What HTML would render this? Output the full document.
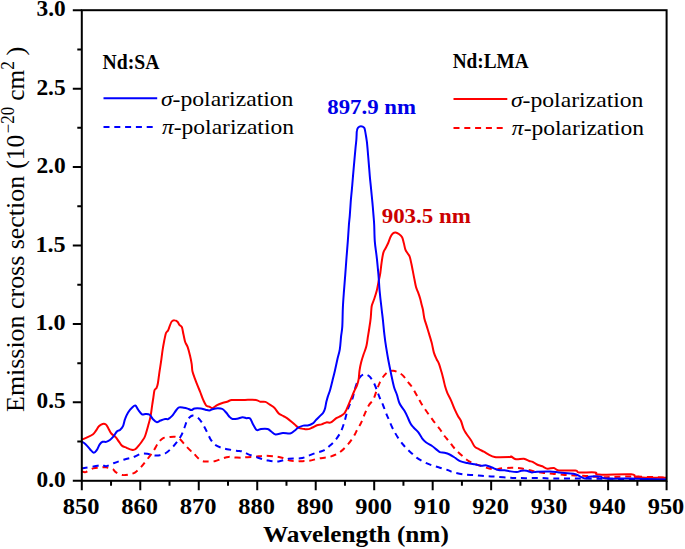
<!DOCTYPE html>
<html><head><meta charset="utf-8"><style>
html,body{margin:0;padding:0;background:#fff;width:685px;height:549px;overflow:hidden;font-family:"Liberation Serif",serif;}
svg{display:block}
</style></head><body>
<svg width="685" height="549" viewBox="0 0 685 549"><defs><clipPath id="c"><rect x="81.8" y="10.2" width="584.8" height="470.6"/></clipPath></defs>
<g clip-path="url(#c)" fill="none" stroke-width="2" stroke-linejoin="round">
<path d="M81.8,471.4 C82.5,471.5 83.9,472.6 85.8,472.1 C87.7,471.6 90.5,469.2 93.1,468.4 C95.6,467.6 98.9,467.6 101.1,467.4 C103.3,467.2 104.2,467.0 106.2,467.3 C108.2,467.6 111.2,468.4 112.8,469.2 C114.4,470.0 114.1,471.1 115.7,472.1 C117.3,473.1 119.9,474.6 122.2,475.0 C124.5,475.4 127.3,474.8 129.5,474.3 C131.7,473.9 133.4,473.5 135.3,472.3 C137.2,471.1 139.2,469.1 141.2,466.9 C143.2,464.7 145.3,461.9 147.4,459.2 C149.5,456.5 151.8,453.4 153.6,450.7 C155.4,448.0 156.7,445.1 158.2,443.0 C159.7,440.9 161.0,439.3 162.8,438.3 C164.6,437.3 166.9,437.4 169.0,437.1 C171.1,436.9 173.4,436.5 175.2,436.8 C177.0,437.1 178.0,437.6 179.8,439.1 C181.6,440.6 184.2,444.1 186.0,446.0 C187.8,447.9 189.5,449.7 190.7,450.7 C191.9,451.7 192.2,450.9 193.1,451.8 C194.0,452.7 194.8,454.6 196.2,456.1 C197.6,457.6 199.8,459.9 201.6,460.8 C203.4,461.7 204.8,461.4 207.0,461.5 C209.2,461.6 212.1,461.7 214.7,461.2 C217.3,460.7 220.2,459.1 222.5,458.4 C224.8,457.7 226.6,457.1 228.7,456.9 C230.8,456.7 232.6,457.3 234.8,457.4 C237.0,457.5 240.1,457.7 241.8,457.7 C243.5,457.7 242.8,457.5 245.0,457.3 C247.2,457.1 251.8,456.9 255.2,456.7 C258.6,456.4 261.8,455.8 265.4,455.8 C269.0,455.8 273.9,456.3 277.0,456.7 C280.1,457.1 282.1,457.8 284.3,458.4 C286.5,459.0 287.9,460.1 290.1,460.6 C292.3,461.1 295.8,461.3 297.4,461.4 C299.0,461.5 298.0,461.3 300.0,461.2 C302.0,461.1 306.2,461.2 309.3,460.8 C312.4,460.4 315.2,459.1 318.6,458.5 C322.0,457.9 326.0,457.8 329.4,456.9 C332.8,456.0 335.9,454.8 338.7,453.0 C341.5,451.2 344.1,448.6 346.4,446.1 C348.7,443.7 350.8,441.0 352.6,438.3 C354.4,435.6 355.9,432.2 357.2,429.8 C358.5,427.4 359.4,426.1 360.5,424.0 C361.6,421.9 362.6,419.2 363.5,417.0 C364.4,414.8 365.1,413.0 366.0,411.0 C366.9,409.0 367.8,406.9 369.0,405.0 C370.2,403.1 372.1,401.8 373.4,399.3 C374.7,396.9 375.6,393.2 376.7,390.3 C377.8,387.4 378.8,384.6 380.0,382.1 C381.2,379.7 382.7,377.3 384.1,375.6 C385.5,373.9 386.8,372.5 388.3,371.7 C389.8,370.9 391.6,370.6 393.2,370.7 C394.8,370.8 396.5,371.5 398.1,372.3 C399.7,373.1 401.4,374.0 403.0,375.6 C404.6,377.2 406.5,380.2 408.0,382.1 C409.5,384.0 410.6,384.9 412.0,387.0 C413.4,389.1 415.1,392.2 416.6,395.0 C418.2,397.8 419.5,400.5 421.3,403.5 C423.1,406.5 425.4,409.8 427.5,412.8 C429.6,415.8 431.6,418.6 433.7,421.3 C435.8,424.0 438.0,426.6 439.8,429.0 C441.6,431.4 442.9,433.9 444.5,436.0 C446.1,438.1 447.6,439.5 449.1,441.4 C450.7,443.3 452.0,445.4 453.8,447.5 C455.6,449.6 457.8,451.8 460.1,453.9 C462.4,456.0 465.0,458.5 467.4,460.2 C469.8,461.9 472.3,462.9 474.7,463.9 C477.1,464.9 479.6,465.5 482.0,466.3 C484.4,467.1 486.8,468.0 489.2,468.5 C491.6,469.0 494.6,469.4 496.5,469.4 C498.4,469.4 497.8,468.8 500.3,468.5 C502.8,468.2 508.0,467.8 511.6,467.8 C515.2,467.8 518.6,467.9 522.1,468.5 C525.6,469.1 529.3,470.4 532.7,471.1 C536.1,471.8 539.4,472.4 542.7,472.8 C546.0,473.2 549.0,473.4 552.6,473.7 C556.2,474.0 560.7,474.6 564.4,474.9 C568.1,475.2 571.4,475.3 575.0,475.5 C578.6,475.7 582.3,475.7 585.9,475.9 C589.5,476.1 592.9,476.6 596.4,476.8 C599.9,477.0 601.3,477.2 606.9,477.2 C612.5,477.1 620.0,476.4 630.0,476.5 C640.0,476.6 660.5,477.3 666.6,477.5" stroke="#ff0000" stroke-dasharray="6 4.8"/>
<path d="M81.8,468.4 C82.5,468.3 83.7,468.0 85.8,467.7 C87.9,467.4 91.9,466.7 94.6,466.3 C97.3,465.9 99.9,465.1 101.8,465.1 C103.7,465.1 104.2,466.6 106.2,466.3 C108.2,466.0 110.6,464.4 113.5,463.3 C116.4,462.2 120.5,460.7 123.7,459.7 C126.9,458.7 130.5,458.0 132.4,457.5 C134.3,457.0 133.5,457.1 135.0,456.5 C136.5,455.9 139.1,454.2 141.2,453.8 C143.3,453.4 145.3,453.6 147.4,453.8 C149.5,454.1 151.6,455.1 153.6,455.3 C155.6,455.6 157.6,455.7 159.7,455.3 C161.8,454.9 163.8,454.3 165.9,453.0 C168.0,451.7 170.3,449.4 172.1,447.6 C173.9,445.8 175.2,444.3 176.8,442.2 C178.4,440.1 180.1,437.6 181.4,435.2 C182.7,432.8 183.5,430.1 184.5,427.5 C185.5,424.9 186.4,421.6 187.6,419.7 C188.8,417.8 190.5,416.6 191.4,415.9 C192.3,415.2 192.1,415.4 193.1,415.7 C194.1,416.0 196.3,416.4 197.7,417.5 C199.1,418.6 200.4,420.4 201.6,422.1 C202.8,423.8 203.7,425.6 204.7,427.5 C205.7,429.4 206.8,431.6 207.8,433.7 C208.8,435.8 209.8,438.1 210.9,439.9 C212.1,441.7 213.0,443.2 214.7,444.5 C216.4,445.8 218.8,446.8 220.9,447.6 C223.0,448.4 224.5,448.7 227.1,449.2 C229.7,449.7 233.8,450.3 236.4,450.7 C239.0,451.1 240.7,450.9 242.6,451.5 C244.5,452.1 245.3,453.1 247.9,454.1 C250.5,455.1 254.7,456.6 258.1,457.7 C261.5,458.8 264.9,460.0 268.3,460.6 C271.7,461.2 275.1,461.7 278.5,461.4 C281.9,461.1 285.1,459.2 288.7,458.7 C292.3,458.2 297.1,458.7 300.3,458.3 C303.5,457.9 305.2,457.0 307.7,456.1 C310.2,455.2 312.9,453.9 315.5,453.0 C318.1,452.1 320.9,451.8 323.2,450.7 C325.5,449.6 327.3,447.9 329.4,446.1 C331.5,444.3 333.7,442.3 335.6,439.9 C337.5,437.4 339.5,434.6 341.0,431.4 C342.5,428.2 343.8,424.0 344.8,420.6 C345.8,417.2 346.4,413.9 347.2,411.3 C348.0,408.7 348.6,407.3 349.5,405.1 C350.4,402.9 351.8,400.6 352.6,398.1 C353.5,395.6 353.7,392.9 354.6,390.0 C355.5,387.1 356.8,382.8 357.9,380.5 C359.0,378.2 359.9,377.0 361.0,376.0 C362.1,375.0 363.4,374.5 364.4,374.3 C365.4,374.1 365.9,374.3 366.9,374.8 C367.9,375.3 369.0,375.7 370.2,377.2 C371.4,378.7 373.1,381.3 374.3,383.8 C375.5,386.3 376.6,389.6 377.5,392.0 C378.4,394.4 379.1,396.3 380.0,398.5 C380.9,400.7 382.0,402.6 383.0,405.0 C384.0,407.4 385.0,410.5 386.0,413.0 C387.0,415.5 387.8,417.3 389.0,420.0 C390.2,422.7 391.4,425.8 393.0,429.0 C394.6,432.2 397.0,436.3 398.9,439.1 C400.8,441.9 402.4,443.8 404.3,446.0 C406.2,448.2 408.4,450.3 410.5,452.2 C412.6,454.1 414.3,455.9 416.6,457.6 C418.9,459.3 421.8,461.0 424.4,462.3 C427.0,463.6 429.5,464.5 432.1,465.4 C434.7,466.3 437.2,466.9 439.8,467.7 C442.4,468.5 445.4,469.3 447.6,470.0 C449.8,470.7 450.1,471.4 452.8,472.1 C455.5,472.9 460.1,474.0 463.7,474.5 C467.3,475.0 471.0,474.9 474.7,475.2 C478.4,475.5 482.0,475.9 485.6,476.1 C489.2,476.4 492.3,476.4 496.5,476.7 C500.7,477.0 506.7,477.6 510.8,477.8 C514.9,478.0 516.0,478.1 521.3,478.1 C526.6,478.2 537.5,478.0 542.7,478.1 C548.0,478.2 543.2,478.4 552.8,478.5 C562.3,478.6 581.0,478.5 600.0,478.7 C619.0,478.9 655.5,479.6 666.6,479.8" stroke="#0000ff" stroke-dasharray="6 4.8"/>
<path d="M81.8,439.6 C82.6,439.3 84.7,438.5 86.6,437.6 C88.5,436.7 91.5,435.4 93.1,434.2 C94.7,433.0 95.0,431.9 96.0,430.6 C97.0,429.3 97.8,427.3 98.9,426.2 C100.0,425.1 101.4,424.3 102.6,424.0 C103.8,423.7 104.9,423.8 105.9,424.5 C106.9,425.2 107.5,426.9 108.4,428.4 C109.3,429.9 110.1,432.1 111.3,433.5 C112.5,434.9 114.4,435.7 115.7,437.1 C117.0,438.6 118.2,440.7 119.3,442.2 C120.4,443.7 121.0,445.0 122.2,445.9 C123.4,446.8 125.0,447.1 126.6,447.8 C128.2,448.5 130.2,449.6 131.7,449.8 C133.1,450.1 134.0,450.2 135.3,449.3 C136.6,448.4 138.4,446.0 139.6,444.5 C140.8,443.0 141.6,441.9 142.5,440.5 C143.4,439.1 144.2,438.4 145.1,436.0 C146.0,433.6 147.2,429.1 148.1,425.9 C149.0,422.7 149.8,420.2 150.5,416.6 C151.2,413.0 151.8,407.4 152.3,404.3 C152.8,401.2 152.9,400.3 153.3,398.0 C153.7,395.7 154.0,392.0 154.5,390.3 C155.0,388.6 155.9,389.0 156.5,387.9 C157.1,386.8 157.3,386.4 157.8,383.8 C158.3,381.2 158.8,376.4 159.4,372.3 C160.0,368.2 160.9,363.0 161.4,359.2 C161.9,355.4 162.2,352.4 162.7,349.3 C163.2,346.2 163.8,343.0 164.3,340.3 C164.9,337.6 165.4,334.6 166.0,333.0 C166.6,331.4 167.4,331.6 168.0,330.5 C168.6,329.4 169.0,327.9 169.6,326.4 C170.2,324.9 170.9,322.5 171.7,321.5 C172.5,320.5 173.5,320.1 174.5,320.2 C175.5,320.2 176.7,321.0 177.5,321.8 C178.3,322.6 178.7,323.9 179.4,324.8 C180.1,325.7 181.2,325.6 181.9,327.2 C182.6,328.8 182.9,332.1 183.5,334.6 C184.1,337.1 184.5,339.9 185.2,342.0 C185.9,344.1 186.8,344.6 187.6,346.9 C188.4,349.2 189.4,353.0 190.1,355.9 C190.8,358.8 191.3,361.5 191.7,364.1 C192.1,366.7 191.9,369.0 192.5,371.5 C193.1,374.0 194.2,376.6 195.0,378.9 C195.8,381.2 196.6,383.1 197.5,385.4 C198.4,387.7 199.5,390.1 200.4,392.5 C201.3,394.9 202.1,397.5 203.1,399.7 C204.1,401.9 205.2,404.5 206.2,405.6 C207.2,406.8 208.3,406.2 209.3,406.6 C210.3,407.0 211.1,408.4 212.4,408.2 C213.7,407.9 215.6,405.9 217.1,405.1 C218.6,404.3 220.0,403.8 221.7,403.2 C223.4,402.6 225.4,402.2 227.1,401.7 C228.8,401.2 229.5,400.3 231.8,400.0 C234.1,399.7 238.8,400.0 241.0,400.0 C243.2,400.0 242.5,399.9 245.0,399.9 C247.5,399.9 253.3,399.6 255.9,399.9 C258.4,400.2 258.7,401.4 260.3,401.7 C261.9,402.0 263.8,401.4 265.4,401.9 C267.0,402.4 268.4,403.7 269.8,404.6 C271.2,405.5 272.7,406.1 274.1,407.5 C275.6,408.9 277.2,412.0 278.5,413.3 C279.8,414.6 280.9,414.8 282.1,415.5 C283.3,416.2 284.5,416.5 285.8,417.4 C287.1,418.2 288.7,419.5 290.1,420.6 C291.6,421.7 293.1,423.0 294.5,424.2 C295.9,425.4 297.0,426.9 298.2,427.6 C299.4,428.3 300.7,428.4 301.8,428.6 C302.9,428.9 303.5,429.0 304.6,429.1 C305.7,429.2 307.2,429.4 308.5,429.1 C309.8,428.8 311.0,428.1 312.4,427.5 C313.8,426.9 315.5,425.7 317.0,425.2 C318.5,424.7 320.1,424.9 321.6,424.4 C323.2,423.9 324.8,422.7 326.3,422.4 C327.9,422.1 329.2,423.1 330.9,422.4 C332.6,421.7 334.6,419.3 336.3,418.2 C338.0,417.1 339.7,416.7 341.0,415.9 C342.3,415.1 343.2,414.6 344.1,413.6 C345.0,412.6 345.6,411.2 346.4,409.7 C347.2,408.1 347.9,406.1 348.7,404.3 C349.5,402.5 350.1,401.1 351.0,398.9 C351.9,396.7 353.3,393.2 354.3,391.0 C355.3,388.8 356.3,387.4 357.0,385.4 C357.7,383.4 358.3,381.3 358.7,378.9 C359.1,376.4 359.1,373.4 359.5,370.7 C359.9,368.0 360.4,365.2 361.1,362.5 C361.8,359.8 362.7,357.0 363.6,354.3 C364.5,351.6 365.7,349.1 366.4,346.1 C367.1,343.1 367.5,339.2 368.0,336.2 C368.5,333.2 368.9,331.0 369.3,328.0 C369.8,325.0 370.4,321.2 370.7,318.2 C371.0,315.2 371.1,312.1 371.3,310.0 C371.5,307.9 371.4,307.2 371.9,305.3 C372.4,303.4 373.5,301.2 374.3,298.8 C375.1,296.4 376.1,293.3 376.8,290.6 C377.5,287.9 377.8,285.3 378.4,282.4 C379.0,279.5 379.8,276.3 380.3,273.0 C380.8,269.7 381.1,266.1 381.6,262.7 C382.1,259.3 382.6,255.3 383.3,252.9 C384.0,250.5 384.9,249.7 385.7,248.0 C386.5,246.3 387.4,244.9 388.2,243.0 C389.0,241.1 389.9,238.1 390.7,236.5 C391.5,234.9 392.3,233.9 393.1,233.2 C393.9,232.5 394.6,232.3 395.6,232.4 C396.6,232.5 397.8,233.2 398.9,234.0 C400.0,234.8 401.3,235.8 402.1,237.3 C402.9,238.8 403.2,240.9 403.8,243.0 C404.4,245.1 404.7,247.8 405.4,249.6 C406.1,251.4 407.2,252.5 407.9,253.7 C408.6,254.9 409.2,255.2 409.8,257.0 C410.4,258.8 411.0,262.0 411.5,264.3 C412.0,266.6 412.3,268.4 412.8,270.9 C413.3,273.4 413.8,276.4 414.4,279.1 C414.9,281.8 415.5,285.1 416.1,287.3 C416.7,289.5 417.3,290.3 418.0,292.2 C418.7,294.1 419.6,296.6 420.2,298.8 C420.8,301.0 421.3,303.4 421.8,305.3 C422.3,307.2 422.6,307.9 423.0,310.0 C423.4,312.1 423.7,315.5 424.3,318.2 C424.9,320.9 426.0,323.7 426.8,326.4 C427.6,329.1 428.5,331.9 429.3,334.6 C430.1,337.3 430.9,339.8 431.7,342.8 C432.5,345.8 433.1,349.9 433.9,352.6 C434.7,355.3 435.7,357.3 436.6,359.2 C437.5,361.1 438.3,361.9 439.1,364.1 C439.9,366.3 440.8,369.6 441.6,372.3 C442.4,375.0 443.1,378.2 443.7,380.5 C444.3,382.8 444.4,383.9 445.0,386.0 C445.6,388.1 446.3,390.4 447.3,392.8 C448.3,395.2 449.7,397.4 450.9,400.1 C452.1,402.8 453.4,406.5 454.6,409.2 C455.8,411.9 457.1,414.5 458.2,416.5 C459.3,418.5 460.1,418.9 461.0,421.0 C461.9,423.1 462.8,427.1 463.7,429.2 C464.6,431.3 465.2,432.0 466.4,433.8 C467.6,435.6 469.6,438.1 471.0,440.2 C472.4,442.3 473.3,445.1 474.7,446.6 C476.1,448.1 477.7,448.5 479.2,449.3 C480.7,450.1 482.1,450.8 483.8,451.7 C485.5,452.6 487.4,453.9 489.2,454.8 C491.0,455.7 492.9,456.6 494.7,457.0 C496.5,457.4 497.5,457.2 500.0,457.2 C502.5,457.2 508.0,457.2 509.9,457.1 C511.8,457.0 510.2,456.1 511.2,456.5 C512.2,456.9 513.9,458.9 516.0,459.3 C518.1,459.7 521.7,458.5 523.9,458.8 C526.1,459.1 527.7,460.5 529.2,461.0 C530.7,461.5 531.4,461.3 532.7,461.9 C534.0,462.5 535.4,463.8 537.0,464.5 C538.6,465.2 540.5,465.6 542.3,466.3 C544.0,467.0 545.6,468.4 547.5,468.7 C549.4,469.0 552.0,467.7 553.9,468.0 C555.8,468.3 555.2,470.1 558.8,470.5 C562.4,470.9 572.0,470.2 575.4,470.5 C578.8,470.8 575.6,472.1 578.9,472.4 C582.2,472.7 591.8,472.0 595.1,472.4 C598.5,472.8 593.0,474.3 599.0,474.6 C605.0,474.9 625.1,473.9 631.1,474.3 C637.1,474.7 633.8,476.8 635.0,477.2 C636.2,477.6 637.3,476.8 638.5,476.8 C639.7,476.9 637.3,477.3 642.0,477.5 C646.7,477.7 662.5,477.8 666.6,477.8" stroke="#ff0000"/>
<path d="M81.8,441.5 C82.5,442.0 84.4,443.1 85.8,444.4 C87.2,445.7 88.9,448.1 90.2,449.5 C91.5,450.9 92.7,452.6 93.8,452.7 C94.9,452.8 95.7,451.6 96.7,450.2 C97.7,448.8 98.7,445.8 99.7,444.4 C100.7,443.0 101.5,442.2 102.6,441.8 C103.7,441.4 105.0,442.2 106.2,441.9 C107.4,441.6 108.7,440.9 109.9,440.0 C111.1,439.1 112.3,437.8 113.5,436.4 C114.7,434.9 116.0,432.4 117.1,431.3 C118.2,430.2 119.0,430.8 120.0,429.9 C121.0,429.0 122.2,428.0 123.0,426.2 C123.8,424.4 124.2,421.2 125.1,418.9 C125.9,416.6 127.0,414.2 128.1,412.4 C129.2,410.6 130.5,409.1 131.7,408.0 C132.9,406.9 134.2,405.2 135.3,405.5 C136.4,405.8 137.0,408.2 138.1,409.7 C139.2,411.2 140.7,413.6 142.0,414.3 C143.3,415.0 144.5,413.8 145.8,413.9 C147.1,414.0 148.5,413.9 149.7,414.8 C150.9,415.7 151.7,417.8 152.8,419.0 C154.0,420.2 155.3,421.9 156.6,422.1 C157.9,422.4 159.1,421.0 160.5,420.5 C161.9,420.0 163.9,419.2 165.2,419.0 C166.5,418.8 167.0,419.5 168.2,419.0 C169.3,418.5 170.8,417.3 172.1,415.9 C173.4,414.5 174.8,411.9 176.0,410.5 C177.2,409.1 177.8,407.9 179.1,407.4 C180.4,406.9 182.3,407.5 183.7,407.7 C185.1,407.9 186.3,408.2 187.6,408.6 C188.9,409.0 190.2,410.0 191.4,410.0 C192.6,410.0 193.0,408.8 194.6,408.5 C196.2,408.2 199.0,408.3 200.8,408.5 C202.6,408.7 204.1,409.4 205.5,409.7 C206.9,410.0 208.0,410.6 209.3,410.5 C210.6,410.4 211.8,409.4 213.2,409.0 C214.6,408.6 216.2,408.2 217.8,408.2 C219.4,408.2 221.1,408.2 222.5,409.0 C223.9,409.8 225.2,411.5 226.3,412.8 C227.5,414.1 228.4,415.7 229.4,416.7 C230.4,417.7 231.2,418.7 232.5,419.0 C233.8,419.3 235.5,419.0 237.2,418.7 C238.9,418.4 241.1,417.3 242.6,417.2 C244.1,417.1 245.2,418.0 246.4,418.2 C247.7,418.4 249.0,417.4 250.1,418.4 C251.2,419.4 251.9,422.3 253.0,424.2 C254.1,426.1 255.3,429.2 256.6,430.0 C257.9,430.8 259.2,429.2 261.0,429.0 C262.8,428.8 265.9,428.6 267.6,429.0 C269.3,429.4 269.9,430.6 271.2,431.5 C272.5,432.4 273.7,434.1 275.6,434.4 C277.6,434.6 280.5,433.2 282.9,433.0 C285.3,432.8 288.2,433.8 290.1,433.4 C292.0,433.0 293.1,431.8 294.5,430.8 C295.9,429.8 296.7,428.5 298.2,427.6 C299.7,426.7 301.7,426.0 303.3,425.6 C304.9,425.2 306.2,425.8 307.7,425.5 C309.2,425.2 311.0,424.6 312.4,423.7 C313.8,422.8 314.9,421.1 316.2,419.8 C317.5,418.5 318.9,417.1 320.1,415.9 C321.3,414.7 322.4,414.1 323.2,412.8 C324.0,411.5 324.6,410.0 325.1,408.2 C325.6,406.4 325.9,403.9 326.3,402.0 C326.8,400.1 327.2,398.6 327.8,396.6 C328.4,394.6 329.3,392.7 330.1,390.0 C330.9,387.3 331.7,383.7 332.5,380.5 C333.3,377.3 334.1,374.2 334.9,370.7 C335.7,367.1 336.6,362.8 337.4,359.2 C338.2,355.6 339.2,353.1 339.8,349.3 C340.4,345.5 340.7,340.0 341.1,336.2 C341.5,332.4 342.0,331.3 342.3,326.4 C342.6,321.5 342.6,313.0 342.9,307.0 C343.2,301.0 343.6,296.1 344.0,290.6 C344.4,285.1 344.9,279.7 345.3,274.2 C345.7,268.7 346.1,263.3 346.5,257.8 C346.9,252.3 347.4,246.9 347.8,241.4 C348.2,235.9 348.6,229.3 348.9,225.0 C349.2,220.7 349.5,219.2 349.8,215.4 C350.1,211.6 350.4,206.7 350.7,202.3 C351.0,197.9 351.5,193.6 351.9,189.2 C352.3,184.8 352.6,180.8 353.0,176.1 C353.4,171.4 353.9,166.0 354.3,161.3 C354.7,156.7 355.2,151.7 355.5,148.2 C355.8,144.7 356.1,142.6 356.3,140.5 C356.5,138.4 356.5,137.0 356.6,135.4 C356.7,133.8 356.6,132.2 356.9,130.9 C357.1,129.6 357.4,128.4 358.1,127.6 C358.8,126.8 359.9,126.2 360.9,126.2 C361.9,126.2 363.4,126.8 364.1,127.6 C364.8,128.4 364.8,129.5 365.1,130.9 C365.4,132.3 365.7,134.2 366.0,136.0 C366.3,137.8 366.6,139.8 366.9,141.8 C367.1,143.8 367.2,144.9 367.5,148.2 C367.8,151.4 368.2,156.7 368.6,161.3 C369.0,166.0 369.4,171.4 369.8,176.1 C370.2,180.8 370.7,184.8 371.1,189.2 C371.5,193.6 372.0,197.9 372.4,202.3 C372.8,206.7 373.2,211.6 373.5,215.4 C373.8,219.2 374.0,220.7 374.2,225.0 C374.4,229.3 374.4,235.9 374.8,241.4 C375.2,246.9 376.2,252.3 376.8,257.8 C377.4,263.3 377.9,268.7 378.4,274.2 C378.9,279.7 379.1,285.1 379.6,290.6 C380.1,296.1 380.8,302.1 381.4,307.0 C381.9,311.9 382.4,315.2 382.9,319.8 C383.4,324.4 383.8,330.0 384.4,334.6 C384.9,339.2 385.5,343.3 386.2,347.7 C386.9,352.1 387.6,356.4 388.5,361.0 C389.4,365.6 390.4,370.7 391.3,375.0 C392.2,379.3 393.1,383.7 394.0,387.0 C394.9,390.3 396.1,392.2 397.0,395.0 C397.9,397.8 398.4,400.9 399.6,403.5 C400.8,406.1 403.0,408.3 404.3,410.5 C405.6,412.7 406.4,414.4 407.4,416.6 C408.4,418.8 409.5,421.8 410.5,423.6 C411.5,425.4 412.3,426.1 413.6,427.5 C414.9,428.9 416.8,430.3 418.2,432.1 C419.6,433.9 420.8,436.6 422.1,438.3 C423.4,440.0 424.2,440.9 425.9,442.2 C427.6,443.5 430.4,444.9 432.1,446.0 C433.8,447.1 434.7,448.1 436.0,449.1 C437.3,450.1 438.4,451.6 439.8,452.2 C441.2,452.8 442.9,452.4 444.5,452.8 C446.1,453.2 447.9,453.7 449.6,454.5 C451.3,455.3 452.9,456.4 454.6,457.5 C456.4,458.6 458.0,460.3 460.1,461.2 C462.2,462.1 465.0,462.5 467.4,463.0 C469.8,463.5 472.4,463.9 474.7,464.3 C477.0,464.8 479.0,465.5 481.0,465.7 C483.0,465.9 484.7,465.1 486.5,465.4 C488.3,465.7 490.0,466.7 492.0,467.5 C494.0,468.3 496.4,469.6 498.5,470.0 C500.6,470.4 502.7,470.0 504.6,470.2 C506.5,470.4 507.8,471.0 509.9,471.3 C511.9,471.6 515.0,472.1 516.9,472.0 C518.8,471.9 519.7,471.0 521.3,470.8 C522.9,470.6 524.8,470.5 526.5,470.8 C528.2,471.1 530.0,472.2 531.8,472.4 C533.5,472.5 534.0,471.8 537.0,471.7 C540.0,471.6 546.4,471.4 550.0,471.5 C553.6,471.6 555.9,472.1 558.8,472.4 C561.7,472.7 564.7,473.0 567.5,473.3 C570.3,473.6 573.4,473.7 575.4,474.2 C577.4,474.7 578.2,475.6 579.8,476.3 C581.4,477.0 583.4,478.4 585.0,478.5 C586.6,478.6 587.6,477.2 589.4,476.8 C591.1,476.4 593.6,476.3 595.5,476.3 C597.4,476.3 599.0,476.4 600.8,476.8 C602.5,477.2 601.1,478.2 606.0,478.5 C610.9,478.8 619.9,478.5 630.0,478.6 C640.1,478.8 660.5,479.3 666.6,479.4" stroke="#0000ff"/>
</g>
<rect x="81.8" y="10.2" width="584.8" height="470.6" fill="none" stroke="#000" stroke-width="2"/>
<path d="M81.80,480.8 V490.3 M111.04,480.8 V485.8 M140.28,480.8 V490.3 M169.52,480.8 V485.8 M198.76,480.8 V490.3 M228.00,480.8 V485.8 M257.24,480.8 V490.3 M286.48,480.8 V485.8 M315.72,480.8 V490.3 M344.96,480.8 V485.8 M374.20,480.8 V490.3 M403.44,480.8 V485.8 M432.68,480.8 V490.3 M461.92,480.8 V485.8 M491.16,480.8 V490.3 M520.40,480.8 V485.8 M549.64,480.8 V490.3 M578.88,480.8 V485.8 M608.12,480.8 V490.3 M637.36,480.8 V485.8 M666.60,480.8 V490.3 M81.8,480.80 H72.8 M81.8,441.58 H77.3 M81.8,402.37 H72.8 M81.8,363.15 H77.3 M81.8,323.93 H72.8 M81.8,284.72 H77.3 M81.8,245.50 H72.8 M81.8,206.28 H77.3 M81.8,167.07 H72.8 M81.8,127.85 H77.3 M81.8,88.63 H72.8 M81.8,49.42 H77.3 M81.8,10.20 H72.8" stroke="#000" stroke-width="2" fill="none"/>
<text x="62.79" y="513.9" font-family="Liberation Serif" font-weight="bold" font-size="23.8" textLength="36.75" lengthAdjust="spacingAndGlyphs">850</text>
<text x="121.27" y="513.9" font-family="Liberation Serif" font-weight="bold" font-size="23.8" textLength="36.75" lengthAdjust="spacingAndGlyphs">860</text>
<text x="179.75" y="513.9" font-family="Liberation Serif" font-weight="bold" font-size="23.8" textLength="36.75" lengthAdjust="spacingAndGlyphs">870</text>
<text x="238.23" y="513.9" font-family="Liberation Serif" font-weight="bold" font-size="23.8" textLength="36.75" lengthAdjust="spacingAndGlyphs">880</text>
<text x="296.71" y="513.9" font-family="Liberation Serif" font-weight="bold" font-size="23.8" textLength="36.75" lengthAdjust="spacingAndGlyphs">890</text>
<text x="355.33" y="513.9" font-family="Liberation Serif" font-weight="bold" font-size="23.8" textLength="36.60" lengthAdjust="spacingAndGlyphs">900</text>
<text x="413.81" y="513.9" font-family="Liberation Serif" font-weight="bold" font-size="23.8" textLength="36.60" lengthAdjust="spacingAndGlyphs">910</text>
<text x="472.29" y="513.9" font-family="Liberation Serif" font-weight="bold" font-size="23.8" textLength="36.60" lengthAdjust="spacingAndGlyphs">920</text>
<text x="530.77" y="513.9" font-family="Liberation Serif" font-weight="bold" font-size="23.8" textLength="36.60" lengthAdjust="spacingAndGlyphs">930</text>
<text x="589.25" y="513.9" font-family="Liberation Serif" font-weight="bold" font-size="23.8" textLength="36.60" lengthAdjust="spacingAndGlyphs">940</text>
<text x="647.73" y="513.9" font-family="Liberation Serif" font-weight="bold" font-size="23.8" textLength="36.60" lengthAdjust="spacingAndGlyphs">950</text>
<text x="36.51" y="486.9" font-family="Liberation Serif" font-weight="bold" font-size="22.5" textLength="29.18" lengthAdjust="spacingAndGlyphs">0.0</text>
<text x="36.51" y="408.47" font-family="Liberation Serif" font-weight="bold" font-size="22.5" textLength="29.14" lengthAdjust="spacingAndGlyphs">0.5</text>
<text x="35.46" y="330.03" font-family="Liberation Serif" font-weight="bold" font-size="22.5" textLength="30.26" lengthAdjust="spacingAndGlyphs">1.0</text>
<text x="35.46" y="251.6" font-family="Liberation Serif" font-weight="bold" font-size="22.5" textLength="30.22" lengthAdjust="spacingAndGlyphs">1.5</text>
<text x="36.42" y="173.17" font-family="Liberation Serif" font-weight="bold" font-size="22.5" textLength="29.28" lengthAdjust="spacingAndGlyphs">2.0</text>
<text x="36.42" y="94.73" font-family="Liberation Serif" font-weight="bold" font-size="22.5" textLength="29.24" lengthAdjust="spacingAndGlyphs">2.5</text>
<text x="36.52" y="16.3" font-family="Liberation Serif" font-weight="bold" font-size="22.5" textLength="29.17" lengthAdjust="spacingAndGlyphs">3.0</text>
<text x="262.95" y="541.9" font-family="Liberation Serif" font-weight="bold" font-size="23.6" textLength="185.86" lengthAdjust="spacingAndGlyphs">Wavelength (nm)</text>
<g transform="translate(23.8,411.6) rotate(-90)"><text x="-0.35" y="0" font-family="Liberation Serif" font-size="25.5" textLength="236.14" lengthAdjust="spacingAndGlyphs">Emission cross section</text><text x="242.98" y="0" font-family="Liberation Serif" font-size="25.5" textLength="33.89" lengthAdjust="spacingAndGlyphs">(10</text><text x="278.36" y="-10" font-family="Liberation Serif" font-size="18" textLength="26.28" lengthAdjust="spacingAndGlyphs">−20</text><text x="310.84" y="0" font-family="Liberation Serif" font-size="25.5" textLength="30.86" lengthAdjust="spacingAndGlyphs">cm</text><text x="341.84" y="-10" font-family="Liberation Serif" font-size="18" textLength="8.61" lengthAdjust="spacingAndGlyphs">2</text><text x="355.81" y="0" font-family="Liberation Serif" font-size="25.5" textLength="9.21" lengthAdjust="spacingAndGlyphs">)</text></g>
<text x="102.52" y="69.3" font-family="Liberation Serif" font-weight="bold" font-size="21.5" textLength="56.92" lengthAdjust="spacingAndGlyphs">Nd:SA</text>
<text x="452.63" y="67.8" font-family="Liberation Serif" font-weight="bold" font-size="21.5" textLength="75.91" lengthAdjust="spacingAndGlyphs">Nd:LMA</text>
<path d="M103.5,98.2 H157.2" stroke="#0000ff" stroke-width="2"/>
<path d="M103.5,126.9 H157.2" stroke="#0000ff" stroke-width="2" stroke-dasharray="6 4.8"/>
<path d="M453.5,99.1 H507.3" stroke="#ff0000" stroke-width="2"/>
<path d="M453.5,128.1 H507.3" stroke="#ff0000" stroke-width="2" stroke-dasharray="6 4.8"/>
<text x="160.90" y="105.5" font-family="Liberation Serif" font-size="21.5" textLength="132.56" lengthAdjust="spacingAndGlyphs"><tspan font-style="italic">σ</tspan>-polarization</text>
<text x="161.97" y="134.1" font-family="Liberation Serif" font-size="21.5" textLength="131.98" lengthAdjust="spacingAndGlyphs"><tspan font-style="italic">π</tspan>-polarization</text>
<text x="510.90" y="106.8" font-family="Liberation Serif" font-size="21.5" textLength="132.56" lengthAdjust="spacingAndGlyphs"><tspan font-style="italic">σ</tspan>-polarization</text>
<text x="511.87" y="135.1" font-family="Liberation Serif" font-size="21.5" textLength="132.08" lengthAdjust="spacingAndGlyphs"><tspan font-style="italic">π</tspan>-polarization</text>
<text x="327.24" y="113.9" font-family="Liberation Serif" font-weight="bold" font-size="21.6" textLength="88.75" lengthAdjust="spacingAndGlyphs" fill="#0000e8">897.9 nm</text>
<text x="381.67" y="222.6" font-family="Liberation Serif" font-weight="bold" font-size="21.6" textLength="89.32" lengthAdjust="spacingAndGlyphs" fill="#cc0000">903.5 nm</text></svg>
</body></html>
